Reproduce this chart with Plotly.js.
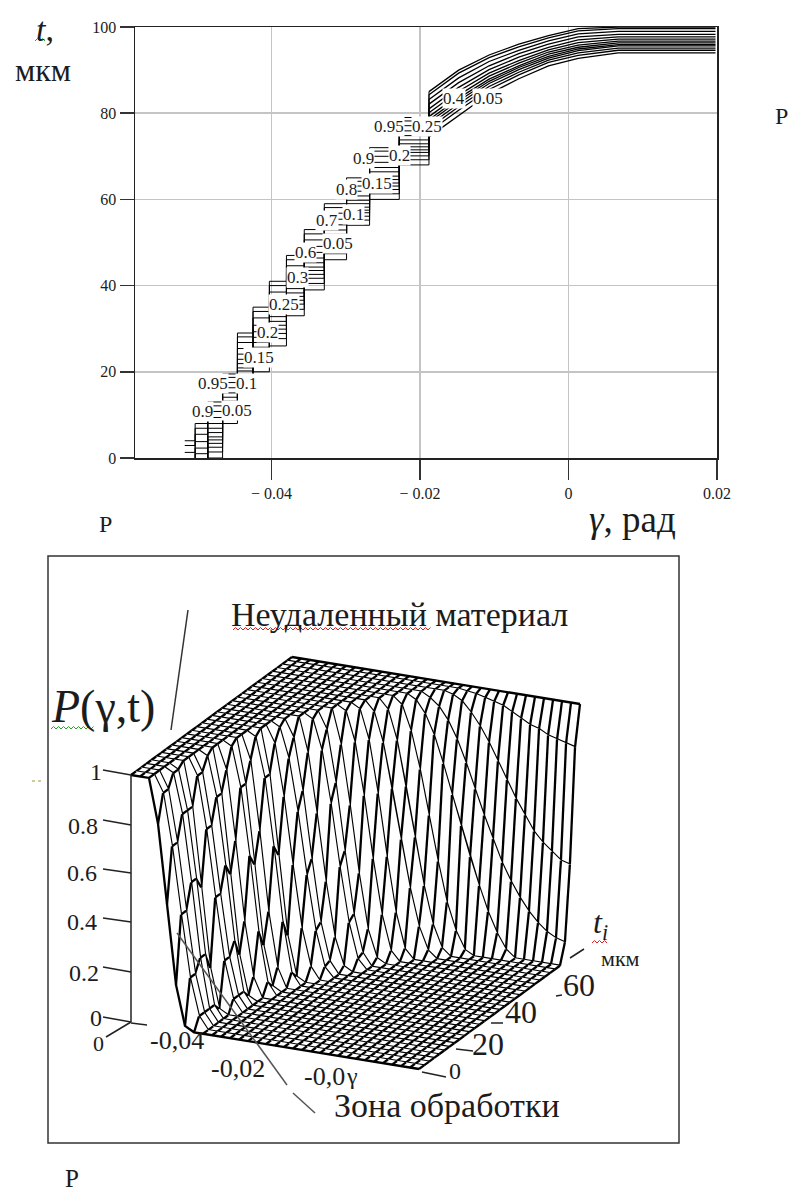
<!DOCTYPE html>
<html><head><meta charset="utf-8">
<script src="https://cdn.plot.ly/plotly-3.0.1.min.js"></script>
<style>html,body{margin:0;padding:0;background:#fff}#c{width:791px;height:1193px}</style>
</head><body><div id="c"></div>
<script>
// ---------- upper chart: contour levels of P ----------
const contourGamma = [-0.0517,-0.0503,-0.0486,-0.0466,-0.0446,-0.0425,-0.0403,-0.0380,-0.0356,-0.0329,-0.0299,-0.0268,-0.0228,-0.0188,-0.0148,-0.0107,-0.0067,-0.0027,0.0013,0.0067,0.0121,0.0198];
const level95 = [4,8,13,19.5,29,35,41,47,53,59,65,72,79,85,90,93.5,96,98,99.6,100,100,100];
const level90 = [2.9,6.9,12.1,18.7,28.1,34,40,46,52,58.1,64.2,71.2,78.2,84.3,89.3,92.9,95.4,97.5,99.1,99.6,99.6,99.6];
const level80 = [1.3,5.5,10.8,17.5,26.8,32.5,38.5,44.6,50.6,56.8,63.1,70,77.1,83.2,88.2,92,94.6,96.8,98.4,99,99,99];
const level70 = [-0.5,3.8,9.4,16.3,25.4,30.8,36.8,43.1,49.1,55.4,61.9,68.6,75.9,82.1,87.1,91,93.8,96,97.7,98.3,98.3,98.3];
const level60 = [-2,2.3,8,15.1,24.1,29.3,35.3,41.7,47.7,54.1,60.8,67.4,74.8,81,86,90.1,93,95.3,97,97.7,97.7,97.7];
const level50 = [-3.5,1,6.9,14.1,22.9,28,34,40.4,46.4,52.9,59.8,66.4,73.8,80.1,85.1,89.3,92.2,94.7,96.4,97.2,97.2,97.2];
const level40 = [-4.8,-0.3,5.9,13.2,21.9,26.8,32.8,39.3,45.3,51.9,59,65.4,72.9,79.2,84.2,88.6,91.6,94.2,95.8,96.7,96.7,96.7];
const level30 = [-6,-1.3,4.9,12.4,20.9,25.7,31.7,38.3,44.3,50.9,58.2,64.6,72.2,78.5,83.5,87.9,91,93.7,95.3,96.3,96.3,96.3];
const level25 = [-6.9,-2.2,4.2,11.7,20.2,24.8,30.8,37.5,43.5,50.2,57.5,63.8,71.5,77.9,82.9,87.4,90.6,93.2,94.9,95.9,95.9,95.9];
const level20 = [-7.8,-3.1,3.4,11,19.4,23.9,29.9,36.6,42.6,49.4,56.9,63.1,70.9,77.2,82.2,86.9,90.1,92.8,94.5,95.6,95.6,95.6];
const level15 = [-9,-4.2,2.5,10.2,18.5,22.9,28.9,35.7,41.7,48.5,56.1,62.3,70.1,76.5,81.5,86.2,89.5,92.3,94,95.1,95.1,95.1];
const level10 = [-10.2,-5.4,1.4,9.3,17.4,21.7,27.7,34.5,40.5,47.4,55.2,61.3,69.2,75.7,80.7,85.5,88.9,91.8,93.4,94.6,94.6,94.6];
const level05 = [-12,-7,0,8,16,20,26,33,39,46,54,60,68,74.5,79.5,84.5,88,91,92.7,94,94,94];
const contourLevels = [level95,level90,level80,level70,level60,level50,level40,level30,level25,level20,level15,level10,level05];

const labelText  = ['0.9','0.05','0.95','0.1','0.15','0.2','0.25','0.3','0.6','0.05','0.7','0.1','0.8','0.15','0.9','0.2','0.95','0.25','0.4','0.05'];
const labelGamma = [-0.04926,-0.0447,-0.0479,-0.04336,-0.04175,-0.04054,-0.03839,-0.03651,-0.03544,-0.03101,-0.03248,-0.02899,-0.02993,-0.02577,-0.02765,-0.02282,-0.02416,-0.01906,-0.01544,-0.01087];
const labelT     = [10.7,11.1,17.2,17.2,23.4,29.2,35.5,41.8,47.6,49.7,55.2,56.6,62.2,63.8,69.6,70.3,76.8,76.8,83.5,83.5];

const xTickVals = [-0.04,-0.02,0,0.02];
const xTickText = ['\u2212 0.04','\u2212 0.02','0','0.02'];
const yTickVals = [0,20,40,60,80,100];

// ---------- lower chart: surface P(gamma,t), one row per t ----------
const surfGamma = [-0.0424,-0.04082,-0.03925,-0.03767,-0.0361,-0.03452,-0.03295,-0.03137,-0.0298,-0.02822,-0.02665,-0.02507,-0.0235,-0.02192,-0.02035,-0.01877,-0.0172,-0.01562,-0.01405,-0.01247,-0.0109,-0.00932,-0.00775,-0.00617,-0.0046,-0.00302,-0.00145,0.00013,0.0017,0.00328,0.00485,0.00643,0.008];
const surfT = [0,2.7,5.5,8.2,10.9,13.7,16.4,19.1,21.9,24.6,27.3,30.1,32.8,35.5,38.3,41,43.8,46.5,49.2,52,54.7,57.4,60.2,62.9,65.6,68.4,71.1,73.8,76.6,79.3,82,84.8,87.5];
// wall shapes
const f4a=[.9,.62,.3,.08], f4c=[.82,.5,.18,.02];
const f5a=[.93,.72,.45,.2,.05], f5b=[.98,.82,.55,.25,.05], f5c=[.86,.62,.35,.13,.02];
const f6b=[.98,.86,.65,.4,.18,.04];
const f7=[.96,.84,.66,.46,.27,.12,.03];
const f8=[.97,.87,.72,.54,.36,.2,.09,.02];
const f11=[.98,.93,.85,.74,.62,.5,.38,.27,.17,.09,.03];
const fA=[.98,.95,.9,.83,.74,.64,.54,.45,.36,.29,.23,.18,.14,.11,.09,.08];
const fB=[.99,.97,.93,.88,.82,.75,.68,.61,.55,.49,.45,.42,.39,.38];
const fC=[.995,.99,.98,.97,.96,.94,.92,.9,.89,.87,.86,.85,.84];
// number of leading cells at P=1 in each row, then its falling values; the rest of the row is P=0
const rowFlat=[3,3,3,3,3,4,4,4,4,5,5,5,6,6,6,7,7,7,8,9,9,10,11,11,12,13,14,15,16,17,19,20,33];
const rowFall=[f4c,f5a,f5a,f5b,f5b,f4c,f5a,f5a,f5b,f4c,f4a,f5b,f4c,f4a,f5b,f4c,f5a,f6b,f5a,f5c,f6b,f5a,f5c,f6b,f6b,f7,f7,f8,f11,fA,fB,fC,[]];
const surfP = rowFlat.map((n,j)=>{
  const row = new Array(surfGamma.length).fill(0);
  for(let i=0;i<n;i++) row[i]=1;
  rowFall[j].forEach((v,k)=>{ row[n+k]=v; });
  return row;
});
const zTickText = ['1','0.8','0.6','0.4','0.2','0'];

// ---------- helpers for page placement ----------
const W=791,H=1193;
const px=x=>x/W, py=y=>1-y/H;
const serif='"Liberation Serif", serif';
const ink='#1c1c1c';
const note=(text,x,y,size,extra)=>Object.assign({text,x:px(x),y:py(y),xref:'paper',yref:'paper',showarrow:false,xanchor:'center',yanchor:'middle',borderpad:0,font:{family:serif,size,color:ink}},extra||{});
const seg=(x0,y0,x1,y1,color,width,dash)=>({type:'line',xref:'paper',yref:'paper',x0:px(x0),y0:py(y0),x1:px(x1),y1:py(y1),line:{color:color||'#000',width:width||1.5,dash:dash||'solid'}});
const wavy=(x0,x1,y,color)=>{let d='M'+px(x0)+','+py(y);let up=true;for(let x=x0+2.5;x<=x1;x+=2.5){d+=' L'+px(x)+','+py(up?y-2.5:y);up=!up;}return {type:'path',xref:'paper',yref:'paper',path:d,line:{color,width:1}};};

// oblique view of the surface: where one whole span of each data axis lands on the hidden 2-D axes
const viewOrigin=[131,1022], viewGamma=[288,47], viewT=[161,-118], viewP=[0,-247];
const gSpan=surfGamma[surfGamma.length-1]-surfGamma[0], tSpan=surfT[surfT.length-1];
const projX=(g,t,p)=>viewOrigin[0]+viewGamma[0]*(g-surfGamma[0])/gSpan+viewT[0]*t/tSpan+viewP[0]*p;
const projY=(g,t,p)=>viewOrigin[1]+viewGamma[1]*(g-surfGamma[0])/gSpan+viewT[1]*t/tSpan+viewP[1]*p;

// painter's order: each strip between two t rows is filled white, then its lines, back to front
const surfaceTraces=[];
for(let j=surfT.length-2;j>=0;j--){
  const fx=[],fy=[],lx=[],ly=[];
  surfGamma.forEach((g,i)=>{fx.push(projX(g,surfT[j],surfP[j][i]));fy.push(projY(g,surfT[j],surfP[j][i]));});
  for(let i=surfGamma.length-1;i>=0;i--){fx.push(projX(surfGamma[i],surfT[j+1],surfP[j+1][i]));fy.push(projY(surfGamma[i],surfT[j+1],surfP[j+1][i]));}
  surfaceTraces.push({type:'scatter',mode:'lines',x:fx,y:fy,xaxis:'x2',yaxis:'y2',fill:'toself',fillcolor:'#fff',line:{width:0,color:'rgba(0,0,0,0)'},hoverinfo:'skip',showlegend:false});
  const rows=j===surfT.length-2?[j+1,j]:[j];
  rows.forEach(r=>{surfGamma.forEach((g,i)=>{lx.push(projX(g,surfT[r],surfP[r][i]));ly.push(projY(g,surfT[r],surfP[r][i]));});lx.push(null);ly.push(null);});
  surfGamma.forEach((g,i)=>{
    lx.push(projX(g,surfT[j],surfP[j][i]),projX(g,surfT[j+1],surfP[j+1][i]),null);
    ly.push(projY(g,surfT[j],surfP[j][i]),projY(g,surfT[j+1],surfP[j+1][i]),null);
  });
  surfaceTraces.push({type:'scatter',mode:'lines',x:lx,y:ly,xaxis:'x2',yaxis:'y2',line:{color:'#000',width:2.3},hoverinfo:'skip',showlegend:false});
}

// the contours step over the coarse grid low down and run smooth near the top
const stepEnd=14;
const contourLow = contourLevels.map(t=>({type:'scatter',mode:'lines',x:contourGamma.slice(0,stepEnd),y:t.slice(0,stepEnd),xaxis:'x',yaxis:'y',line:{color:'#000',width:1,shape:'hv'},hoverinfo:'skip',showlegend:false}));
const contourHigh = contourLevels.map(t=>({type:'scatter',mode:'lines',x:contourGamma.slice(stepEnd-1),y:t.slice(stepEnd-1),xaxis:'x',yaxis:'y',line:{color:'#000',width:1.3},hoverinfo:'skip',showlegend:false}));

const annotations=[
  ...labelText.map((t,i)=>({text:t,x:labelGamma[i],y:labelT[i],xref:'x',yref:'y',showarrow:false,bgcolor:'#fff',borderpad:0,font:{family:serif,size:17,color:ink}})),
  note('<i>t</i>,',45,30,34),
  note('мкм',43,70,32),
  note('Р',781,116,24),
  note('Р',105,524,24),
  note('<i>γ</i>, рад',632,519,37),
  note('Неудаленный материал',400,614,34),
  note('<i>P</i>(γ,t)',103,706,46),
  ...zTickText.map((t,i)=>note(t,[96,83,82,82,84,96][i],[772,826,873,922,973,1018][i],24)),
  note('0',98,1043,22),
  note('-0,04',177,1040,26),
  note('-0,02',238,1068,26),
  note('-0,0',324,1076,26),
  note('γ',352,1076,24),
  note('0',455,1071,24),
  note('20',488,1044,32),
  note('40',521,1012,32),
  note('60',579,985,32),
  note('<i>t<sub>i</sub></i>',600,924,32),
  note('мкм',620,958,22),
  note('Зона обработки',447,1105,34),
  note('Р',72,1178,25)
];

const shapes=[
  {type:'rect',xref:'paper',yref:'paper',x0:px(48),x1:px(679),y0:py(556),y1:py(1143),line:{color:'#333',width:1.5},fillcolor:'rgba(0,0,0,0)'},
  seg(188,610,171,730,'#333',1.5),
  seg(177,933,287,1085,'#555',1.5),
  seg(293,1093,315,1113,'#555',1.5),
  seg(131,775,131,1022,'#222',1.5),
  seg(103,770,131,775,'#222',1.5),seg(103,820,131,825,'#222',1.5),seg(103,869,131,873,'#222',1.5),seg(103,918,131,922,'#222',1.5),seg(103,967,131,972,'#222',1.5),seg(103,1017,131,1022,'#222',1.5),
  seg(131,1022,106,1037,'#222',1.5),
  seg(131,1023,147,1025,'#222',1.5),
  seg(422,1072,446,1077,'#222',1.5),seg(456,1049,473,1051,'#222',1.5),seg(491,1023,503,1023,'#222',1.5),seg(556,996,562,995,'#222',1.5),
  seg(570,958,584,949,'#222',1.5),
  wavy(233,432,630,'#e02020'),wavy(51,95,729,'#2e9e2e'),wavy(35,46,41,'#2e9e2e'),wavy(592,607,943,'#e02020'),
  seg(32,781,43,781,'#9a9a30',1,'dot')
];

const axTick={family:serif,size:16,color:ink};
const layout={width:W,height:H,margin:{l:0,r:0,t:0,b:0},paper_bgcolor:'#fff',plot_bgcolor:'rgba(0,0,0,0)',showlegend:false,
  xaxis:{domain:[px(135),px(717)],range:[-0.0584,0.02],tickmode:'array',tickvals:xTickVals,ticktext:xTickText,ticks:'outside',ticklen:20,tickwidth:1.5,tickcolor:'#333',showgrid:true,gridcolor:'#c4c4c4',gridwidth:1.5,zeroline:false,showline:true,linecolor:'#222',linewidth:1.5,mirror:true,tickfont:axTick,anchor:'y'},
  yaxis:{domain:[py(458),py(27)],range:[0,100],tickmode:'array',tickvals:yTickVals,ticks:'outside',ticklen:14,tickwidth:1.5,tickcolor:'#333',showgrid:true,gridcolor:'#c4c4c4',gridwidth:1.5,zeroline:false,showline:true,linecolor:'#222',linewidth:1.5,mirror:true,tickfont:axTick,anchor:'x'},
  xaxis2:{domain:[0,1],range:[0,W],visible:false,anchor:'y2'},
  yaxis2:{domain:[0,1],range:[H,0],visible:false,anchor:'x2'},
  annotations,shapes};

Plotly.newPlot('c',[...contourLow,...contourHigh,...surfaceTraces],layout,{displayModeBar:false,staticPlot:true});
</script></body></html>
